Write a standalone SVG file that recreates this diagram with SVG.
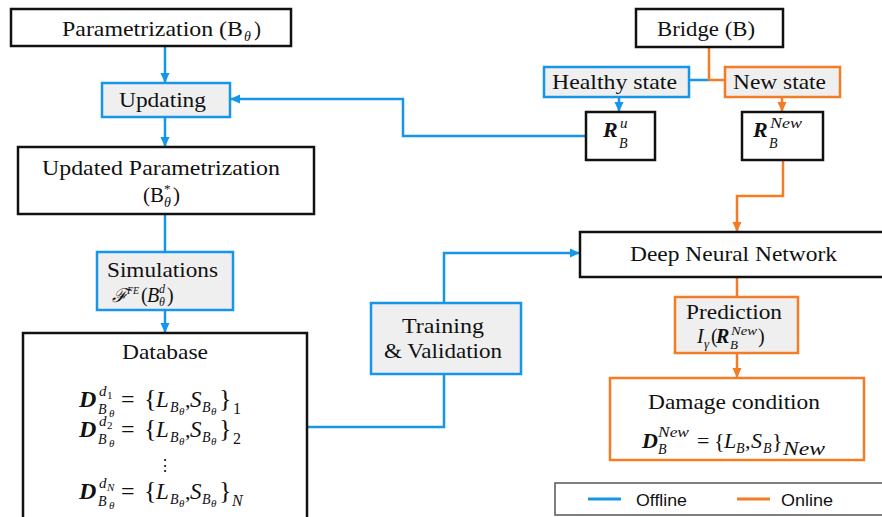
<svg xmlns="http://www.w3.org/2000/svg" width="882" height="517" viewBox="0 0 882 517">
<defs>
<style>
.t{font-family:"Liberation Serif","DejaVu Serif",serif;font-size:21px;fill:#111}
.m{font-family:"Liberation Serif","DejaVu Serif",serif;fill:#111}
.mi{font-family:"Liberation Serif","DejaVu Serif",serif;font-style:italic;fill:#111}
.mb{font-family:"Liberation Serif","DejaVu Serif",serif;font-style:italic;font-weight:bold;fill:#111}
.lg{font-family:"Liberation Sans",Arial,sans-serif;font-size:17px;fill:#111}
.bk{fill:#fff;stroke:#111;stroke-width:2.5}
.bb{fill:#efefef;stroke:#1596e8;stroke-width:2.5}
.bo{fill:#efefef;stroke:#f47c24;stroke-width:2.5}
.bow{fill:#fff;stroke:#f47c24;stroke-width:2.5}
.cb{fill:none;stroke:#1596e8;stroke-width:2.5}
.co{fill:none;stroke:#f47c24;stroke-width:2.5}
</style>
<marker id="ab" markerUnits="userSpaceOnUse" markerWidth="10" markerHeight="10" viewBox="0 0 10 10" refX="10" refY="5" orient="auto"><path d="M0,0.5 L10,5 L0,9.5 z" fill="#1596e8"/></marker>
<marker id="ao" markerUnits="userSpaceOnUse" markerWidth="10" markerHeight="10" viewBox="0 0 10 10" refX="10" refY="5" orient="auto"><path d="M0,0.5 L10,5 L0,9.5 z" fill="#f47c24"/></marker>
</defs>
<rect width="882" height="517" fill="#fff"/>

<g id="connectors">
<path class="cb" d="M165,46 V83" marker-end="url(#ab)"/>
<path class="cb" d="M165,117 V147" marker-end="url(#ab)"/>
<path class="cb" d="M165,214 V252"/>
<path class="cb" d="M165,310 V333" marker-end="url(#ab)"/>
<path class="cb" d="M307,427 H444 V374"/>
<path class="cb" d="M444,303 V253 H580" marker-end="url(#ab)"/>
<path class="cb" d="M586,136 H403 V99 H230" marker-end="url(#ab)"/>
<path class="cb" d="M619,97 V112" marker-end="url(#ab)"/>
<path class="cb" d="M689,80 H709"/>
<path class="co" d="M709,47 V80 H725"/>
<path class="co" d="M782,97 V112" marker-end="url(#ao)"/>
<path class="co" d="M783,160 V196 H737 V232" marker-end="url(#ao)"/>
<path class="co" d="M737,277 V297"/>
<path class="co" d="M737,353 V378" marker-end="url(#ao)"/>
</g>

<g id="parametrization">
<rect class="bk" x="11" y="9" width="280" height="37"/>
<text class="t" x="62" y="36" textLength="181" lengthAdjust="spacingAndGlyphs">Parametrization (B</text>
<text class="mi" x="244" y="41" font-size="14">θ</text>
<text class="m" x="254" y="36" font-size="21">)</text>
</g>

<g id="updating">
<rect class="bb" x="102" y="83" width="128" height="34"/>
<text class="t" x="119" y="107" textLength="87" lengthAdjust="spacingAndGlyphs">Updating</text>
</g>

<g id="updated-parametrization">
<rect class="bk" x="18" y="147" width="296" height="67"/>
<text class="t" x="42" y="175" textLength="238" lengthAdjust="spacingAndGlyphs">Updated Parametrization</text>
<text class="m" x="143" y="202" font-size="21">(B</text>
<text class="m" x="164" y="193" font-size="13">*</text>
<text class="mi" x="164" y="207" font-size="14">θ</text>
<text class="m" x="173" y="202" font-size="21">)</text>
</g>

<g id="simulations">
<rect class="bb" x="97" y="252" width="136" height="58"/>
<text class="t" x="107" y="277" textLength="111" lengthAdjust="spacingAndGlyphs">Simulations</text>
<text class="mi" x="112" y="302" font-size="19">ℱ</text>
<text class="mi" x="127" y="294" font-size="10">FE</text>
<text class="m" x="141" y="302" font-size="20">(</text>
<text class="mi" x="147" y="302" font-size="20">B</text>
<text class="mi" x="159" y="293" font-size="12">d</text>
<text class="mi" x="159" y="306" font-size="12">θ</text>
<text class="m" x="167" y="302" font-size="20">)</text>
</g>

<g id="database">
<rect class="bk" x="23" y="333" width="284" height="200"/>
<text class="t" x="122" y="359" textLength="86" lengthAdjust="spacingAndGlyphs">Database</text>
<g id="eq1">
<text class="mb" x="79" y="407" font-size="24">D</text>
<text class="mi" x="99" y="396" font-size="15">d</text>
<text class="m" x="107" y="399" font-size="11">1</text>
<text class="mi" x="98" y="414" font-size="14">B</text>
<text class="mi" x="109" y="417" font-size="11">θ</text>
<text class="m" x="121" y="407" font-size="24">=</text>
<text class="m" x="144" y="407" font-size="26">{</text>
<text class="mi" x="156" y="407" font-size="23">L</text>
<text class="mi" x="170" y="412" font-size="14">B</text>
<text class="mi" x="179" y="415" font-size="11">θ</text>
<text class="m" x="185" y="407" font-size="22">,</text>
<text class="mi" x="190" y="407" font-size="23">S</text>
<text class="mi" x="202" y="412" font-size="14">B</text>
<text class="mi" x="211" y="415" font-size="11">θ</text>
<text class="m" x="219" y="407" font-size="26">}</text>
<text class="m" x="233" y="414" font-size="16">1</text>
</g>
<g id="eq2">
<text class="mb" x="79" y="437" font-size="24">D</text>
<text class="mi" x="99" y="426" font-size="15">d</text>
<text class="m" x="107" y="429" font-size="11">2</text>
<text class="mi" x="98" y="444" font-size="14">B</text>
<text class="mi" x="109" y="447" font-size="11">θ</text>
<text class="m" x="121" y="437" font-size="24">=</text>
<text class="m" x="144" y="437" font-size="26">{</text>
<text class="mi" x="156" y="437" font-size="23">L</text>
<text class="mi" x="170" y="442" font-size="14">B</text>
<text class="mi" x="179" y="445" font-size="11">θ</text>
<text class="m" x="185" y="437" font-size="22">,</text>
<text class="mi" x="190" y="437" font-size="23">S</text>
<text class="mi" x="202" y="442" font-size="14">B</text>
<text class="mi" x="211" y="445" font-size="11">θ</text>
<text class="m" x="219" y="437" font-size="26">}</text>
<text class="m" x="233" y="444" font-size="16">2</text>
</g>
<text class="m" x="165" y="471" font-size="16" text-anchor="middle" font-family="DejaVu Serif">⋮</text>
<g id="eqN">
<text class="mb" x="79" y="499" font-size="24">D</text>
<text class="mi" x="99" y="488" font-size="15">d</text>
<text class="mi" x="107" y="491" font-size="11">N</text>
<text class="mi" x="98" y="506" font-size="14">B</text>
<text class="mi" x="109" y="509" font-size="11">θ</text>
<text class="m" x="121" y="499" font-size="24">=</text>
<text class="m" x="144" y="499" font-size="26">{</text>
<text class="mi" x="156" y="499" font-size="23">L</text>
<text class="mi" x="170" y="504" font-size="14">B</text>
<text class="mi" x="179" y="507" font-size="11">θ</text>
<text class="m" x="185" y="499" font-size="22">,</text>
<text class="mi" x="190" y="499" font-size="23">S</text>
<text class="mi" x="202" y="504" font-size="14">B</text>
<text class="mi" x="211" y="507" font-size="11">θ</text>
<text class="m" x="219" y="499" font-size="26">}</text>
<text class="mi" x="232" y="506" font-size="16">N</text>
</g>
</g>

<g id="training">
<rect class="bb" x="371" y="303" width="150" height="71"/>
<text class="t" x="402" y="333" textLength="82" lengthAdjust="spacingAndGlyphs">Training</text>
<text class="t" x="384" y="358" textLength="118" lengthAdjust="spacingAndGlyphs">&amp; Validation</text>
</g>

<g id="bridge">
<rect class="bk" x="636" y="9" width="147" height="38"/>
<text class="t" x="657" y="36" textLength="98" lengthAdjust="spacingAndGlyphs">Bridge (B)</text>
</g>

<g id="healthy-state">
<rect class="bb" x="544" y="67" width="145" height="30"/>
<text class="t" x="552" y="89" textLength="125" lengthAdjust="spacingAndGlyphs">Healthy state</text>
</g>

<g id="new-state">
<rect class="bo" x="725" y="67" width="115" height="30"/>
<text class="t" x="733" y="89" textLength="93" lengthAdjust="spacingAndGlyphs">New state</text>
</g>

<g id="r-u">
<rect class="bk" x="586" y="112" width="69" height="48"/>
<text class="mb" x="603" y="137" font-size="22">R</text>
<text class="mi" x="620" y="128" font-size="15">u</text>
<text class="mi" x="619" y="148" font-size="14">B</text>
</g>

<g id="r-new">
<rect class="bk" x="742" y="112" width="81" height="48"/>
<text class="mb" x="753" y="137" font-size="22">R</text>
<text class="mi" x="770" y="128" font-size="15" textLength="32" lengthAdjust="spacingAndGlyphs">New</text>
<text class="mi" x="769" y="148" font-size="14">B</text>
</g>

<g id="dnn">
<rect class="bk" x="580" y="232" width="310" height="45"/>
<text class="t" x="630" y="261" textLength="207" lengthAdjust="spacingAndGlyphs">Deep Neural Network</text>
</g>

<g id="prediction">
<rect class="bo" x="675" y="297" width="123" height="56"/>
<text class="t" x="686" y="319" textLength="96" lengthAdjust="spacingAndGlyphs">Prediction</text>
<text class="mi" x="697" y="343" font-size="20">I</text>
<text class="mi" x="704" y="348" font-size="13">γ</text>
<text class="m" x="711" y="343" font-size="20">(</text>
<text class="mb" x="716" y="343" font-size="20">R</text>
<text class="mi" x="731" y="335" font-size="13" textLength="26" lengthAdjust="spacingAndGlyphs">New</text>
<text class="mi" x="730" y="349" font-size="13">B</text>
<text class="m" x="758" y="343" font-size="20">)</text>
</g>

<g id="damage-condition">
<rect class="bow" x="610" y="378" width="254" height="82"/>
<text class="t" x="648" y="409" textLength="172" lengthAdjust="spacingAndGlyphs">Damage condition</text>
<text class="mb" x="642" y="448" font-size="22">D</text>
<text class="mi" x="658" y="437" font-size="15" textLength="31" lengthAdjust="spacingAndGlyphs">New</text>
<text class="mi" x="658" y="454" font-size="14">B</text>
<text class="m" x="697" y="448" font-size="22">=</text>
<text class="m" x="714" y="448" font-size="22">{</text>
<text class="mi" x="724" y="448" font-size="22">L</text>
<text class="mi" x="736" y="453" font-size="14">B</text>
<text class="m" x="745" y="448" font-size="22">,</text>
<text class="mi" x="751" y="448" font-size="22">S</text>
<text class="mi" x="763" y="453" font-size="14">B</text>
<text class="m" x="772" y="448" font-size="22">}</text>
<text class="mi" x="783" y="455" font-size="19" textLength="42" lengthAdjust="spacingAndGlyphs">New</text>
</g>

<g id="legend">
<rect x="555" y="483" width="335" height="32" fill="#fff" stroke="#555" stroke-width="1.5"/>
<line x1="588" y1="499" x2="621" y2="499" stroke="#1596e8" stroke-width="3"/>
<text class="lg" x="636" y="506" textLength="51" lengthAdjust="spacingAndGlyphs">Offline</text>
<line x1="737" y1="499" x2="770" y2="499" stroke="#f47c24" stroke-width="3"/>
<text class="lg" x="781" y="506" textLength="52" lengthAdjust="spacingAndGlyphs">Online</text>
</g>
</svg>
